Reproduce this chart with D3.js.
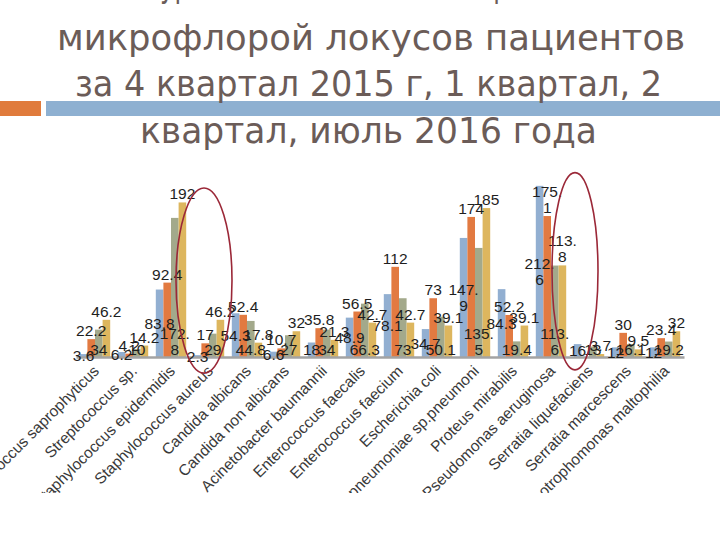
<!DOCTYPE html>
<html><head><meta charset="utf-8">
<script src="https://cdn.jsdelivr.net/npm/d3@7"></script>
<style>html,body{margin:0;padding:0;background:#fff;}svg{display:block;}</style>
</head><body>
<svg id="c" width="720" height="540"></svg>
<script>
const categories = ["Staphylococcus saprophyticus","Streptococcus sp.","Staphylococcus epidermidis","Staphylococcus aureus","Candida albicans","Candida non albicans","Acinetobacter baumannii","Enterococcus faecalis","Enterococcus faecium","Escherichia coli","Klebsiella pneumoniae sp.pneumoni","Proteus mirabilis","Pseudomonas aeruginosa","Serratia liquefaciens","Serratia marcescens","Stenotrophomonas maltophilia"];
const seriesNames = ["4 квартал 2015","1 квартал 2016","2 квартал 2016","июль 2016"];
const q4_2015 = [3.6, 6.2, 83.8, 2.3, 54.3, 6.6, 18, 48.9, 78.1, 34.7, 147.9, 84.3, 212.6, 16, 12, 12];
const q1_2016 = [22.2, 4.2, 92.4, 17, 52.4, 10.7, 35.8, 56.5, 112, 73, 174, 52.2, 175.1, null, 30, 23.4];
const q2_2016 = [34, 10, 172.8, 29, 44.8, 27, 34, 66.3, 73, 50.1, 135.5, 19.4, 113.6, 13, 16.1, 19.2];
const jul_2016 = [46.2, 14.2, 192, 46.2, 17.8, 32, 21.3, 42.7, 42.7, 39.1, 185, 39.1, 113.8, 3.7, 9.5, 32];
const titleLines = ["уровень обсеменённости раневой", "микрофлорой локусов  пациентов", "за 4 квартал 2015 г, 1 квартал, 2", "квартал, июль  2016 года"];

const seriesData = [q4_2015, q1_2016, q2_2016, jul_2016];
const colors = ["#92AFD1", "#E27A41", "#A3A98B", "#DDB65E"];
const labelMode = ["center", "outside", "base", "outside"];

const svg = d3.select("#c");

// title decoration
svg.append("rect").attr("x",0).attr("y",101).attr("width",41).attr("height",15).attr("fill","#E07B3C");
svg.append("rect").attr("x",46).attr("y",101).attr("width",674).attr("height",15).attr("fill","#8EB0D1");

const titleY = [-3, 50, 96, 143];
const titleX = [[160, 600], [57, 685], [75, 662], [140, 597]];
titleLines.forEach((t,i)=>{
  svg.append("text").attr("x",titleX[i][0]).attr("y",titleY[i])
    .attr("textLength", titleX[i][1]-titleX[i][0]).attr("lengthAdjust","spacingAndGlyphs")
    .attr("font-family","'Liberation Sans Narrow','DejaVu Sans Condensed','Open Sans',sans-serif")
    .attr("font-size",36).attr("fill","#6B5C58").text(t);
});

const x = d3.scaleBand().domain(categories).range([76,684]).paddingInner(0.2).paddingOuter(0.1);
const xs = d3.scaleBand().domain(d3.range(4)).range([0, x.bandwidth()]);
const y = d3.scaleLinear().domain([0,200]).range([357,196]);

const bars = [];
categories.forEach((c,i)=>seriesData.forEach((s,k)=>{ if(s[i]!=null) bars.push({c,k,v:s[i]}); }));

svg.append("g").selectAll("rect").data(bars).join("rect")
  .attr("x",d=>x(d.c)+xs(d.k)).attr("width",xs.bandwidth())
  .attr("y",d=>y(d.v)).attr("height",d=>y(0)-y(d.v)).attr("fill",d=>colors[d.k]);

// axis line
const xAxis = svg.append("g").attr("transform","translate(0,357)").call(d3.axisBottom(x).tickSize(0).tickFormat(""));
xAxis.select(".domain").attr("stroke","#A3A3A3").attr("stroke-width",2.5);

// category labels
svg.append("clipPath").attr("id","lc").append("rect").attr("x",0).attr("y",360).attr("width",720).attr("height",133);
const lg = svg.append("g").attr("clip-path","url(#lc)");
lg.selectAll("text").data(categories).join("text")
  .attr("transform",d=>`translate(${x(d)+x.bandwidth()/2+5},372) rotate(-45)`)
  .attr("text-anchor","end").attr("font-family","'Liberation Sans',Arial,sans-serif")
  .attr("font-size",15.5).attr("fill","#3A3A3A").text(d=>d);

// data labels
const lh = 16;
const dl = svg.append("g").attr("font-family","'Liberation Sans',Arial,sans-serif").attr("font-size",15.5).attr("fill","#1E1E1E").attr("text-anchor","middle");
bars.forEach(d=>{
  const s = String(d.v);
  const parts = s.length>4 ? [s.slice(0,4), s.slice(4)] : [s];
  const cx = x(d.c)+xs(d.k)+xs.bandwidth()/2;
  const top = y(d.v), base = y(0);
  let lastBase;
  const mode = labelMode[d.k];
  if(mode==="outside") lastBase = top-3;
  else if(mode==="base") lastBase = base-2;
  else lastBase = (top+base)/2 + 5.5 + (parts.length-1)*lh/2;
  const t = dl.append("text");
  parts.forEach((p,j)=>{
    t.append("tspan").attr("x",cx).attr("y",lastBase-(parts.length-1-j)*lh).text(p);
  });
});

// annotation ellipses
const ann = [
  {c:"Staphylococcus aureus", dx:-5, v0:-20, v1:210},
  {c:"Serratia liquefaciens", dx:-14, v0:-16, v1:229}
];
svg.append("g").selectAll("ellipse").data(ann).join("ellipse")
  .attr("cx",d=>x(d.c)+x.bandwidth()/2+d.dx)
  .attr("cy",d=>(y(d.v0)+y(d.v1))/2)
  .attr("rx",d=>d.dx===-5?28:23)
  .attr("ry",d=>(y(d.v0)-y(d.v1))/2)
  .attr("fill","none").attr("stroke","#9B2838").attr("stroke-width",1.6);
</script>
</body></html>
